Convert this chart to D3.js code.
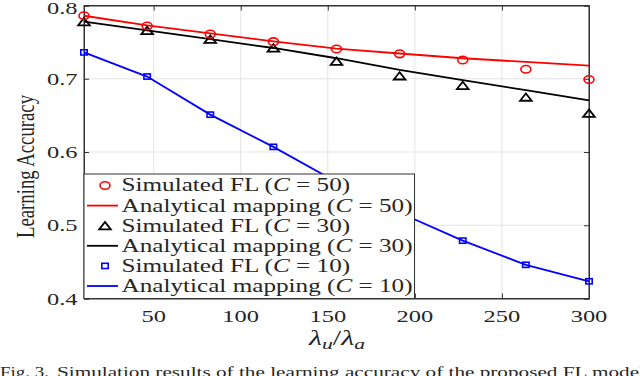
<!DOCTYPE html>
<html>
<head>
<meta charset="utf-8">
<script src="https://cdn.jsdelivr.net/npm/d3@7"></script>
<style>
html,body{margin:0;padding:0;background:#fff;overflow:hidden;}
svg{display:block;}
text{font-family:"Liberation Serif","Times New Roman",serif;fill:#262626;}
</style>
</head>
<body>
<svg id="chart" width="640" height="376"></svg>
<script>
// ---- data ----
const xValues = [10, 46.25, 82.5, 118.75, 155, 191.25, 227.5, 263.75, 300];
const simC50 = [0.786, 0.772, 0.761, 0.7506, 0.7406, 0.734, 0.7256, 0.713, 0.699];
const anaC50 = [0.786, 0.773, 0.762, 0.751, 0.741, 0.7345, 0.728, 0.723, 0.718];
const simC30 = [0.778, 0.766, 0.754, 0.742, 0.724, 0.704, 0.691, 0.675, 0.653];
const anaC30 = [0.778, 0.766, 0.754, 0.742, 0.728, 0.712, 0.698, 0.6845, 0.6706];
const simC10 = [0.736, 0.703, 0.651, 0.607, 0.559, 0.517, 0.479, 0.446, 0.4235];
const anaC10 = [0.736, 0.703, 0.651, 0.607, 0.559, 0.517, 0.479, 0.446, 0.4235];
const xTicks = [50, 100, 150, 200, 250, 300];
const yTicks = [0.4, 0.5, 0.6, 0.7, 0.8];
const legendLabels = [
  {kind:"marker", shape:"circle", color:"#ff0000", pre:"Simulated FL (", post:" = 50)"},
  {kind:"line", color:"#ff0000", pre:"Analytical mapping (", post:" = 50)"},
  {kind:"marker", shape:"triangle", color:"#000000", pre:"Simulated FL (", post:" = 30)"},
  {kind:"line", color:"#000000", pre:"Analytical mapping (", post:" = 30)"},
  {kind:"marker", shape:"square", color:"#0000ff", pre:"Simulated FL (", post:" = 10)"},
  {kind:"line", color:"#0000ff", pre:"Analytical mapping (", post:" = 10)"}
];
const yLabel = "Learning Accuracy";
const captionA = "Fig. 3.";
const captionB = "Simulation results of the learning accuracy of the proposed FL model";

// ---- layout ----
const SX = 1.4; // horizontal stretch of the original figure
const FONT = "'Liberation Serif', 'Times New Roman', serif";
const svg = d3.select("#chart");
const pLeft = 84, pRight = 589, pTop = 5.5, pBottom = 298.5;
const x = d3.scaleLinear().domain([10, 300]).range([pLeft, pRight]);
const y = d3.scaleLinear().domain([0.4, 0.8]).range([pBottom, pTop]);

function stretchedText(g, tx, ty, size){
  return g.append("text")
    .attr("transform", `translate(${tx},${ty}) scale(${SX},1)`)
    .attr("font-family", FONT)
    .style("font-size", size + "px");
}

// grid
const grid = svg.append("g");
grid.selectAll("line.gx").data(xTicks).join("line")
  .attr("x1", d => x(d)).attr("x2", d => x(d))
  .attr("y1", pTop).attr("y2", pBottom)
  .attr("stroke", "#e3e3e3").attr("stroke-width", 1);
grid.selectAll("line.gy").data(yTicks).join("line")
  .attr("y1", d => y(d)).attr("y2", d => y(d))
  .attr("x1", pLeft).attr("x2", pRight)
  .attr("stroke", "#e3e3e3").attr("stroke-width", 1);

// axes (inward ticks, all four sides)
const axCol = "#333333";
const gB = svg.append("g").attr("transform", `translate(0,${pBottom})`)
  .call(d3.axisBottom(x).tickValues(xTicks).tickSize(-5).tickFormat(""));
const gT = svg.append("g").attr("transform", `translate(0,${pTop})`)
  .call(d3.axisTop(x).tickValues(xTicks).tickSize(-5).tickFormat(""));
const gL = svg.append("g").attr("transform", `translate(${pLeft},0)`)
  .call(d3.axisLeft(y).tickValues(yTicks).tickSize(-5).tickFormat(""));
const gR = svg.append("g").attr("transform", `translate(${pRight},0)`)
  .call(d3.axisRight(y).tickValues(yTicks).tickSize(-5).tickFormat(""));
[gB, gT, gL, gR].forEach(g => {
  g.select(".domain").attr("stroke", axCol).attr("stroke-width", 1);
  g.selectAll(".tick line").attr("stroke", axCol).attr("stroke-width", 1);
});
svg.append("rect").attr("x", pLeft).attr("y", pTop)
  .attr("width", pRight - pLeft).attr("height", pBottom - pTop)
  .attr("fill", "none").attr("stroke", axCol).attr("stroke-width", 1);

// tick labels
xTicks.forEach(t => {
  stretchedText(svg, x(t), 321.5, 17.5).attr("text-anchor", "middle").text(t);
});
yTicks.forEach(t => {
  stretchedText(svg, 77.5, Math.max(y(t), 7.5), 17.5).attr("text-anchor", "end").attr("dy", "0.35em").text(d3.format(".1f")(t));
});

// axis titles
svg.append("text")
  .attr("transform", `translate(33.5,166.5) scale(${SX},1) rotate(-90)`)
  .attr("font-family", FONT)
  .attr("text-anchor", "middle").style("font-size", "18px")
  .attr("textLength", 143).attr("lengthAdjust", "spacingAndGlyphs")
  .text(yLabel);

const xl = stretchedText(svg, 337, 344.5, 21.5).attr("text-anchor", "middle");
xl.append("tspan").style("font-style", "italic").text("λ");
xl.append("tspan").style("font-style", "italic").style("font-size", "15.5px").attr("dy", "4").text("u");
xl.append("tspan").attr("dy", "-4").text("/");
xl.append("tspan").style("font-style", "italic").text("λ");
xl.append("tspan").style("font-style", "italic").style("font-size", "15.5px").attr("dy", "4").text("a");

// lines
const line = d3.line().x((d, i) => x(xValues[i])).y(d => y(d));
const series = [
  {ana: anaC10, sim: simC10, color: "#0000ff", shape: "square"},
  {ana: anaC30, sim: simC30, color: "#000000", shape: "triangle"},
  {ana: anaC50, sim: simC50, color: "#ff0000", shape: "circle"}
];
function drawMarker(g, shape, color, cx, cy){
  if (shape === "circle") {
    g.append("ellipse").attr("cx", cx).attr("cy", cy).attr("rx", 5).attr("ry", 3.8)
      .attr("fill", "none").attr("stroke", color).attr("stroke-width", 1.6);
  } else if (shape === "triangle") {
    const hw = 5.8, hh = 3.7;
    g.append("path").attr("d", `M${cx - hw},${cy + hh}L${cx + hw},${cy + hh}L${cx},${cy - hh}Z`)
      .attr("fill", "none").attr("stroke", color).attr("stroke-width", 1.8).attr("stroke-linejoin", "miter");
  } else {
    g.append("rect").attr("x", cx - 3.2).attr("y", cy - 2.6).attr("width", 6.4).attr("height", 5.2)
      .attr("fill", "none").attr("stroke", color).attr("stroke-width", 1.6);
  }
}
const plot = svg.append("g");
series.forEach(s => {
  plot.append("path").datum(s.ana).attr("d", line)
    .attr("fill", "none").attr("stroke", s.color).attr("stroke-width", 1.8);
});
series.forEach(s => {
  s.sim.forEach((v, i) => drawMarker(plot, s.shape, s.color, x(xValues[i]), y(v)));
});

// legend
const lg = svg.append("g");
const lgLeft = pLeft, lgRight = 414.5, lgTop = 174;
lg.append("rect").attr("x", lgLeft).attr("y", lgTop)
  .attr("width", lgRight - lgLeft).attr("height", pBottom - lgTop)
  .attr("fill", "#ffffff").attr("stroke", axCol).attr("stroke-width", 1);
legendLabels.forEach((d, i) => {
  const ry = 185.5 + i * 20.1;
  if (d.kind === "line") {
    lg.append("line").attr("x1", 87).attr("x2", 118).attr("y1", ry).attr("y2", ry)
      .attr("stroke", d.color).attr("stroke-width", 1.8);
  } else {
    drawMarker(lg, d.shape, d.color, 105, ry);
  }
  const t = stretchedText(lg, 121.5, ry, 18).attr("dy", "0.33em");
  t.append("tspan").text(d.pre);
  t.append("tspan").style("font-style", "italic").text("C");
  t.append("tspan").text(d.post);
});

// caption (partly below the bottom edge, as in the reference)
svg.append("text").attr("x", 0).attr("y", 377).attr("font-family", FONT).style("font-size", "14px")
  .attr("textLength", 49).attr("lengthAdjust", "spacingAndGlyphs").text(captionA);
svg.append("text").attr("x", 57).attr("y", 377).attr("font-family", FONT).style("font-size", "14px")
  .attr("textLength", 588).attr("lengthAdjust", "spacingAndGlyphs").text(captionB);
</script>
</body>
</html>
